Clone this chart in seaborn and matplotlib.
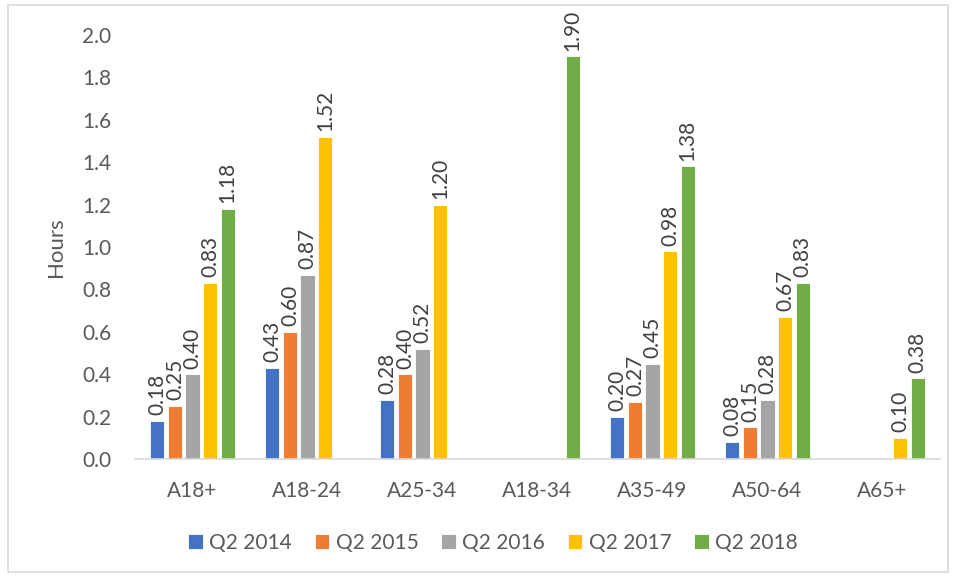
"""
plot.py - Hours by age group, Q2 2014 to Q2 2018
"""

import numpy as np
import pandas as pd
import matplotlib.pyplot as plt
import matplotlib.patches as patches
import seaborn as sns

sns.set_style("white")
plt.rcParams["font.family"] = ["Lato", "DejaVu Sans"]

CATEGORIES = ["A18+", "A18-24", "A25-34", "A18-34", "A35-49", "A50-64", "A65+"]
SERIES = ["Q2 2014", "Q2 2015", "Q2 2016", "Q2 2017", "Q2 2018"]
NAN = np.nan
Q2_2014 = [0.18, 0.43, 0.28, NAN, 0.20, 0.08, NAN]
Q2_2015 = [0.25, 0.60, 0.40, NAN, 0.27, 0.15, NAN]
Q2_2016 = [0.40, 0.87, 0.52, NAN, 0.45, 0.28, NAN]
Q2_2017 = [0.83, 1.52, 1.20, NAN, 0.98, 0.67, 0.10]
Q2_2018 = [1.18, NAN, NAN, 1.90, 1.38, 0.83, 0.38]
Y_TICKS = [0.0, 0.2, 0.4, 0.6, 0.8, 1.0, 1.2, 1.4, 1.6, 1.8, 2.0]

COLORS = ["#4472C4", "#ED7D31", "#A5A5A5", "#FFC000", "#70AD47"]
TEXT = "#595959"
FS = 15

rows = []
for name, values in zip(SERIES, [Q2_2014, Q2_2015, Q2_2016, Q2_2017, Q2_2018]):
    for cat, v in zip(CATEGORIES, values):
        rows.append({"group": cat, "series": name, "hours": v})
df = pd.DataFrame(rows)

fig = plt.figure(figsize=(9.56, 5.77), dpi=100)
ax = fig.add_axes([135 / 956, 1 - 459 / 577, (940 - 135) / 956, (459 - 35) / 577])

sns.barplot(data=df, x="group", y="hours", hue="series", order=CATEGORIES,
            hue_order=SERIES, palette=COLORS, saturation=1, width=0.765, gap=0.2,
            edgecolor="white", linewidth=0.6, errorbar=None, ax=ax, legend=True)

for cont in ax.containers:
    labels = ["" if np.isnan(v) else f"{v:.2f}" for v in cont.datavalues]
    ax.bar_label(cont, labels=labels, rotation=90, padding=4,
                 fontsize=FS, color="#404040")

ax.set_ylim(0, 2.0)
ax.set_yticks(Y_TICKS)
ax.set_yticklabels([f"{t:.1f}" for t in Y_TICKS])
ax.set_xlim(-0.5, len(CATEGORIES) - 0.5)
ax.set_xlabel("")
ax.set_ylabel("Hours", fontsize=FS + 1, color=TEXT, labelpad=12)
ax.tick_params(axis="y", length=0, pad=17, labelsize=FS, labelcolor=TEXT)
ax.tick_params(axis="x", length=0, pad=16, labelsize=FS, labelcolor=TEXT)

for side in ["top", "right", "left"]:
    ax.spines[side].set_visible(False)
ax.spines["bottom"].set_color("#D9D9D9")
ax.spines["bottom"].set_linewidth(1.2)
ax.grid(False)

handles, labels = ax.get_legend_handles_labels()
ax.legend_.remove()
fig.legend(handles, labels, loc="center", bbox_to_anchor=(493 / 956, 1 - 543 / 577),
           ncol=5, frameon=False, fontsize=FS, labelcolor=TEXT,
           handlelength=0.7, handleheight=0.7, handletextpad=0.3, columnspacing=1.1)

# chart border
fig.patches.append(patches.Rectangle((8 / 956, 5 / 577), 940 / 956, 567 / 577,
                                     transform=fig.transFigure, fill=False,
                                     edgecolor="#D9D9D9", linewidth=1.2))

fig.savefig("out.png", dpi=100)
